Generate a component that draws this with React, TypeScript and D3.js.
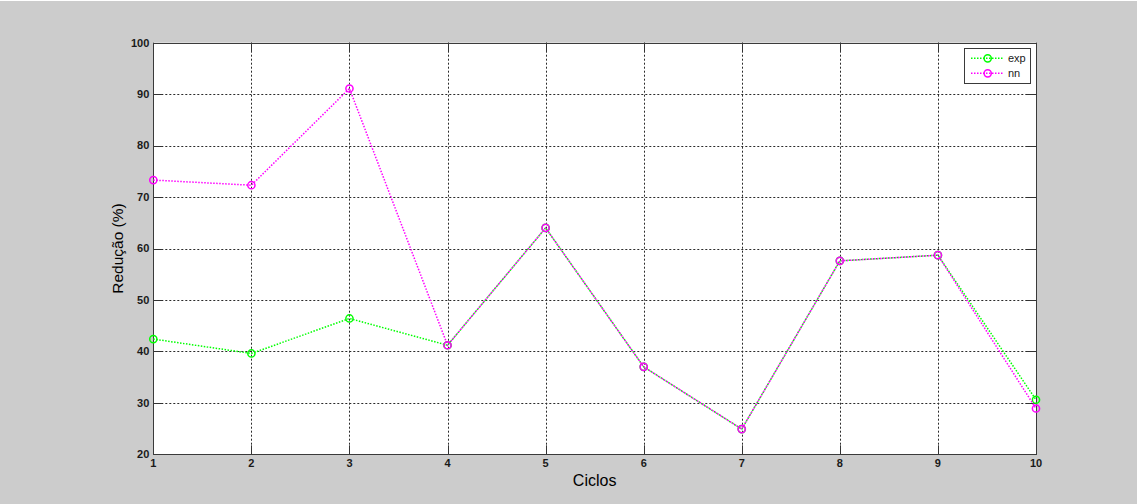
import React from "react";
import * as d3 from "d3";

// Reduction per cycle for the two methods
const ciclos = [1, 2, 3, 4, 5, 6, 7, 8, 9, 10];
const expValues = [42.4, 39.6, 46.4, 41.2, 64.0, 37.0, 24.9, 57.6, 58.7, 30.6];
const nnValues = [73.3, 72.3, 91.1, 41.2, 64.0, 37.0, 24.9, 57.6, 58.7, 28.9];
const xTicks = [1, 2, 3, 4, 5, 6, 7, 8, 9, 10];
const yTicks = [20, 30, 40, 50, 60, 70, 80, 90, 100];
const seriesNames = ["exp", "nn"];
const seriesColors = ["#00ff00", "#ff00ff"];

const W = 1138;
const H = 504;
const left = 153.3;
const right = 1036;
const top = 42.7;
const bottom = 454.3;
const font = "'Liberation Sans', Arial, Helvetica, sans-serif";

export default function App() {
  const x = d3.scaleLinear().domain([1, 10]).range([left, right]);
  const y = d3.scaleLinear().domain([20, 100]).range([bottom, top]);
  const line = d3
    .line<[number, number]>()
    .x((d) => x(d[0]))
    .y((d) => y(d[1]));

  const series = [expValues, nnValues].map((vals) =>
    ciclos.map((c, i) => [c, vals[i]] as [number, number])
  );
  const tickLen = 9;

  return (
    <svg
      width={W}
      height={H}
      style={{ position: "fixed", left: 0, top: 0, display: "block" }}
    >
      <rect x={0} y={0} width={W} height={H} fill="#cccccc" />
      <line x1={0} y1={0.5} x2={W} y2={0.5} stroke="#ffffff" />
      <line x1={W - 0.5} y1={0} x2={W - 0.5} y2={H} stroke="#ffffff" />

      {/* axes area */}
      <rect x={left} y={top} width={right - left} height={bottom - top} fill="#ffffff" />

      {/* grid */}
      <g stroke="#2a2a2a" strokeWidth={1} strokeDasharray="2,2">
        {xTicks.slice(1, -1).map((t) => (
          <line key={"gx" + t} x1={Math.round(x(t)) + 0.5} x2={Math.round(x(t)) + 0.5} y1={top} y2={bottom} />
        ))}
        {yTicks.slice(1, -1).map((t) => (
          <line key={"gy" + t} x1={left} x2={right} y1={Math.round(y(t)) + 0.5} y2={Math.round(y(t)) + 0.5} />
        ))}
      </g>

      {/* inward ticks */}
      <g stroke="#333" strokeWidth={1}>
        {xTicks.map((t) => {
          const xx = Math.round(x(t)) + 0.5;
          return (
            <g key={"tx" + t}>
              <line x1={xx} x2={xx} y1={bottom} y2={bottom - tickLen} />
              <line x1={xx} x2={xx} y1={top} y2={top + tickLen} />
            </g>
          );
        })}
        {yTicks.map((t) => {
          const yy = Math.round(y(t)) + 0.5;
          return (
            <g key={"ty" + t}>
              <line x1={left} x2={left + tickLen} y1={yy} y2={yy} />
              <line x1={right} x2={right - tickLen} y1={yy} y2={yy} />
            </g>
          );
        })}
      </g>

      {/* axes box */}
      <rect
        x={Math.round(left) + 0.5}
        y={Math.round(top) + 0.5}
        width={Math.round(right) - Math.round(left)}
        height={Math.round(bottom) - Math.round(top)}
        fill="none"
        stroke="#3a3a3a"
        strokeWidth={1}
      />

      {/* tick labels */}
      <g fontFamily={font} fontSize={11} fill="#1a1a1a" fontWeight={600}>
        {yTicks.map((t) => (
          <text key={"ly" + t} x={left - 4} y={y(t)} dy="0.35em" textAnchor="end">
            {t}
          </text>
        ))}
        {xTicks.map((t) => (
          <text key={"lx" + t} x={x(t)} y={bottom + 13} textAnchor="middle">
            {t}
          </text>
        ))}
      </g>

      {/* axis titles */}
      <text
        transform={`translate(123, ${(top + bottom) / 2}) rotate(-90)`}
        textAnchor="middle"
        fontFamily={font}
        fontSize={15.5}
        fill="#000"
      >
        Redução (%)
      </text>
      <text
        x={(left + right) / 2}
        y={486}
        textAnchor="middle"
        fontFamily={font}
        fontSize={16}
        fill="#000"
      >
        Ciclos
      </text>

      {/* series */}
      {series.map((pts, si) => (
        <g key={"s" + si}>
          <path
            d={line(pts) ?? ""}
            fill="none"
            stroke={seriesColors[si]}
            strokeWidth={1.5}
            strokeDasharray="1.5,1.5"
          />
          {pts.map((p, i) => (
            <circle
              key={i}
              cx={x(p[0])}
              cy={y(p[1])}
              r={3.6}
              fill="none"
              stroke={seriesColors[si]}
              strokeWidth={1.5}
            />
          ))}
        </g>
      ))}

      {/* legend */}
      <g>
        <rect x={964.5} y={48.5} width={66} height={35} fill="#ffffff" stroke="#3a3a3a" strokeWidth={1} />
        {seriesNames.map((name, i) => {
          const ly = 58.3 + i * 15;
          return (
            <g key={name}>
              <line
                x1={971}
                x2={1003}
                y1={ly}
                y2={ly}
                stroke={seriesColors[i]}
                strokeWidth={1.5}
                strokeDasharray="1.5,1.5"
              />
              <circle cx={987.7} cy={ly} r={3.6} fill="none" stroke={seriesColors[i]} strokeWidth={1.5} />
              <text x={1008} y={ly} dy="0.35em" fontFamily={font} fontSize={11} fill="#1a1a1a">
                {name}
              </text>
            </g>
          );
        })}
      </g>
    </svg>
  );
}
